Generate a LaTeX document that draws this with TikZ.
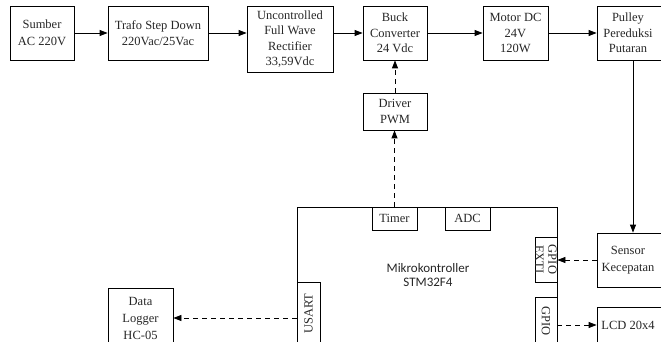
\documentclass[tikz,border=0pt]{standalone}
\usepackage{fontspec}
\setmainfont{Liberation Serif}
\newfontfamily\mksans{Carlito}
\usetikzlibrary{arrows.meta}
\begin{document}
\begin{tikzpicture}[x=1pt,y=-1pt,
  box/.style={draw, line width=0.8pt, inner sep=0pt, align=center,
    font=\fontsize{12.5}{15.5}\selectfont, text=black!85},
  arr/.style={line width=0.8pt, -{Triangle[length=8pt,width=6pt]}},
  darr/.style={arr, dash pattern=on 5pt off 4pt}]
\useasboundingbox (0,0) rectangle (661,342);
% top row
\node[box, minimum width=64, minimum height=54, font=\fontsize{12.5}{16.5}\selectfont] (sumber) at (42,33) {Sumber\\AC 220V};
\node[box, minimum width=100, minimum height=54, font=\fontsize{12.5}{16.5}\selectfont] (trafo) at (158,33) {Trafo Step Down\\220Vac/25Vac};
\node[box, minimum width=86, minimum height=66] (rect) at (290,39) {Uncontrolled\\Full Wave\\Rectifier\\33,59Vdc};
\node[box, minimum width=64, minimum height=54] (buck) at (395,33) {Buck\\Converter\\24 Vdc};
\node[box, minimum width=65, minimum height=54] (motor) at (515.5,33) {Motor DC\\24V\\120W};
\node[box, minimum width=72, minimum height=54] (pulley) at (633,33) {\hspace*{-10pt}Pulley\\\hspace*{-10pt}Pereduksi\\\hspace*{-10pt}Putaran};
\node[box, minimum width=64, minimum height=37] (driver) at (395,111.5) {Driver\\PWM};
% microcontroller
\node[box, minimum width=260, minimum height=138] (micro) at (427,276) {};
\node[font=\mksans\fontsize{13}{14}\selectfont, align=center, inner sep=0pt, text=black!85] (mktext) at (428,275) {Mikrokontroller\\STM32F4};
\node[box, minimum width=45, minimum height=23] (timer) at (394.5,218.5) {Timer};
\node[box, minimum width=45, minimum height=23] (adc) at (467.5,218.5) {ADC};
\node[box, rotate=-90, minimum width=45, minimum height=22, font=\fontsize{12.5}{13}\selectfont] (exti) at (546,259.5) {GPIO\\EXTI};
\node[box, rotate=-90, minimum width=48, minimum height=22] (gpio) at (546,321) {GPIO};
\node[box, rotate=90, minimum width=63, minimum height=23] (usart) at (308.5,313.5) {USART};
% right and left peripherals
\node[box, minimum width=72, minimum height=54, font=\fontsize{12.5}{17}\selectfont] (sensor) at (633,260) {\hspace*{-10pt}Sensor\\\hspace*{-10pt}Kecepatan};
\node[box, minimum width=72, minimum height=36] (lcd) at (633,325) {\hspace*{-10pt}LCD 20x4};
\node[box, minimum width=65, minimum height=60, font=\fontsize{12.5}{17}\selectfont] (logger) at (140.5,318) {Data\\Logger\\HC-05};
% connectors
\draw[arr] (sumber) -- (trafo);
\draw[arr] (trafo.east) -- (trafo.east -| rect.west);
\draw[arr] (buck.west -| rect.east) -- (buck.west);
\draw[arr] (buck) -- (motor);
\draw[arr] (motor) -- (pulley);
\draw[arr] (pulley.south) -- (sensor.north);
\draw[darr] (driver) -- (buck);
\draw[darr] (timer.north) -- (timer.north |- driver.south);
\draw[darr] (sensor.west) -- (sensor.west -| micro.east);
\draw[darr] (lcd.west -| micro.east) -- (lcd.west);
\draw[darr] (micro.west |- logger.east) -- (logger.east);
\end{tikzpicture}
\end{document}
